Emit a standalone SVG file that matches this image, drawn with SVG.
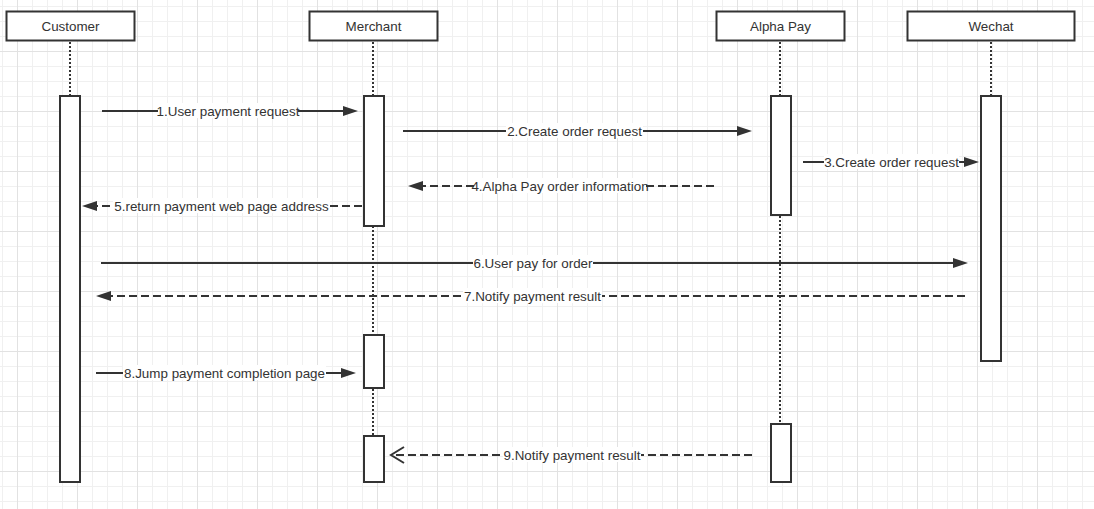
<svg xmlns="http://www.w3.org/2000/svg" width="1094" height="509" viewBox="0 0 1094 509">
  <style>
    .hdr{fill:#fff;stroke:#333;stroke-width:2}
    .act{fill:#fff;stroke:#333;stroke-width:2}
    .life{stroke:#333;stroke-width:2;stroke-dasharray:2 2;fill:none}
    .msg{stroke:#333;stroke-width:2;fill:none}
    .dash{stroke-dasharray:8 4}
    .t{font-family:"Liberation Sans",Arial,sans-serif;font-size:13.4px;fill:#333;text-anchor:middle}
    .lbg{fill:#fff}
  </style>
  <defs>
    <pattern id="grid" patternUnits="userSpaceOnUse" x="17" y="51" width="60" height="60">
      <rect x="15" y="0" width="1" height="60" fill="#f0f0f0"/>
      <rect x="30" y="0" width="1" height="60" fill="#f0f0f0"/>
      <rect x="45" y="0" width="1" height="60" fill="#f0f0f0"/>
      <rect x="0" y="15" width="60" height="1" fill="#f0f0f0"/>
      <rect x="0" y="30" width="60" height="1" fill="#f0f0f0"/>
      <rect x="0" y="45" width="60" height="1" fill="#f0f0f0"/>
      <rect x="0" y="0" width="1" height="60" fill="#e2e2e2"/>
      <rect x="0" y="0" width="60" height="1" fill="#e2e2e2"/>
    </pattern>
    <marker id="block" markerUnits="userSpaceOnUse" markerWidth="16" markerHeight="12" refX="1" refY="5" orient="auto" overflow="visible">
      <path d="M0,0 L15,5 L0,10 Z" fill="#333" stroke="none"/>
    </marker>
    <marker id="open" markerUnits="userSpaceOnUse" markerWidth="16" markerHeight="20" refX="14" refY="9" orient="auto" overflow="visible">
      <path d="M1,1 L14,9 L1,17" fill="none" stroke="#333" stroke-width="2" stroke-dasharray="none"/>
    </marker>
  </defs>
  <rect x="0" y="0" width="1094" height="509" fill="#fff"/>
  <rect x="0" y="0" width="1094" height="509" fill="url(#grid)"/>

  <g id="lifelines">
    <line class="life" x1="70" y1="42" x2="70" y2="96"/>
    <line class="life" x1="373" y1="42" x2="373" y2="96"/>
    <line class="life" x1="373" y1="226" x2="373" y2="335"/>
    <line class="life" x1="373" y1="389" x2="373" y2="436"/>
    <line class="life" x1="780" y1="42" x2="780" y2="96"/>
    <line class="life" x1="780" y1="216" x2="780" y2="424"/>
    <line class="life" x1="991" y1="42" x2="991" y2="96"/>
  </g>

  <g id="customer">
    <rect class="hdr" x="6.5" y="11.5" width="128" height="29"/>
    <text class="t" x="70.5" y="30.5">Customer</text>
    <rect class="act" x="60" y="96" width="20" height="386"/>
  </g>
  <g id="merchant">
    <rect class="hdr" x="309.5" y="11.5" width="128" height="29"/>
    <text class="t" x="373.5" y="30.5">Merchant</text>
    <rect class="act" x="364" y="96" width="20" height="130"/>
    <rect class="act" x="364" y="335" width="20" height="53"/>
    <rect class="act" x="364" y="436" width="20" height="46"/>
  </g>
  <g id="alphapay">
    <rect class="hdr" x="716.5" y="11.5" width="128" height="29"/>
    <text class="t" x="780.5" y="30.5">Alpha Pay</text>
    <rect class="act" x="771" y="96" width="20" height="119"/>
    <rect class="act" x="771" y="424" width="20" height="58"/>
  </g>
  <g id="wechat">
    <rect class="hdr" x="907.5" y="11.5" width="167" height="29"/>
    <text class="t" x="991" y="30.5">Wechat</text>
    <rect class="act" x="981" y="96" width="20" height="265"/>
  </g>

  <g id="connectors">
    <line class="msg" x1="102" y1="111" x2="344" y2="111" marker-end="url(#block)"/>
    <rect class="lbg" x="158" y="103" width="140" height="15"/>
    <text class="t" x="228" y="115.5">1.User payment request</text>

    <line class="msg" x1="403" y1="131" x2="738" y2="131" marker-end="url(#block)"/>
    <rect class="lbg" x="506" y="123" width="137" height="15"/>
    <text class="t" x="574.5" y="135.5">2.Create order request</text>

    <line class="msg" x1="803" y1="162" x2="965" y2="162" marker-end="url(#block)"/>
    <rect class="lbg" x="824" y="154" width="135" height="15"/>
    <text class="t" x="891.5" y="166.5">3.Create order request</text>

    <line class="msg dash" x1="714" y1="186" x2="422" y2="186" marker-end="url(#block)"/>
    <rect class="lbg" x="474" y="178" width="172" height="15"/>
    <text class="t" x="560" y="190.5">4.Alpha Pay order information</text>

    <line class="msg dash" x1="362" y1="206" x2="96" y2="206" marker-end="url(#block)"/>
    <rect class="lbg" x="113" y="198" width="217" height="15"/>
    <text class="t" x="221.5" y="210.5">5.return payment web page address</text>

    <line class="msg" x1="101" y1="263" x2="954" y2="263" marker-end="url(#block)"/>
    <rect class="lbg" x="473" y="255" width="120" height="15"/>
    <text class="t" x="533" y="267.5">6.User pay for order</text>

    <line class="msg dash" x1="965" y1="296" x2="110" y2="296" marker-end="url(#block)"/>
    <rect class="lbg" x="463" y="288" width="139" height="15"/>
    <text class="t" x="532.5" y="300.5">7.Notify payment result</text>

    <line class="msg" x1="96" y1="373" x2="342" y2="373" marker-end="url(#block)"/>
    <rect class="lbg" x="123" y="365" width="203" height="15"/>
    <text class="t" x="224.5" y="377.5">8.Jump payment completion page</text>

    <line class="msg dash" x1="752" y1="455" x2="391" y2="455" marker-end="url(#open)"/>
    <rect class="lbg" x="503" y="447" width="138" height="15"/>
    <text class="t" x="572" y="459.5">9.Notify payment result</text>
  </g>
</svg>
